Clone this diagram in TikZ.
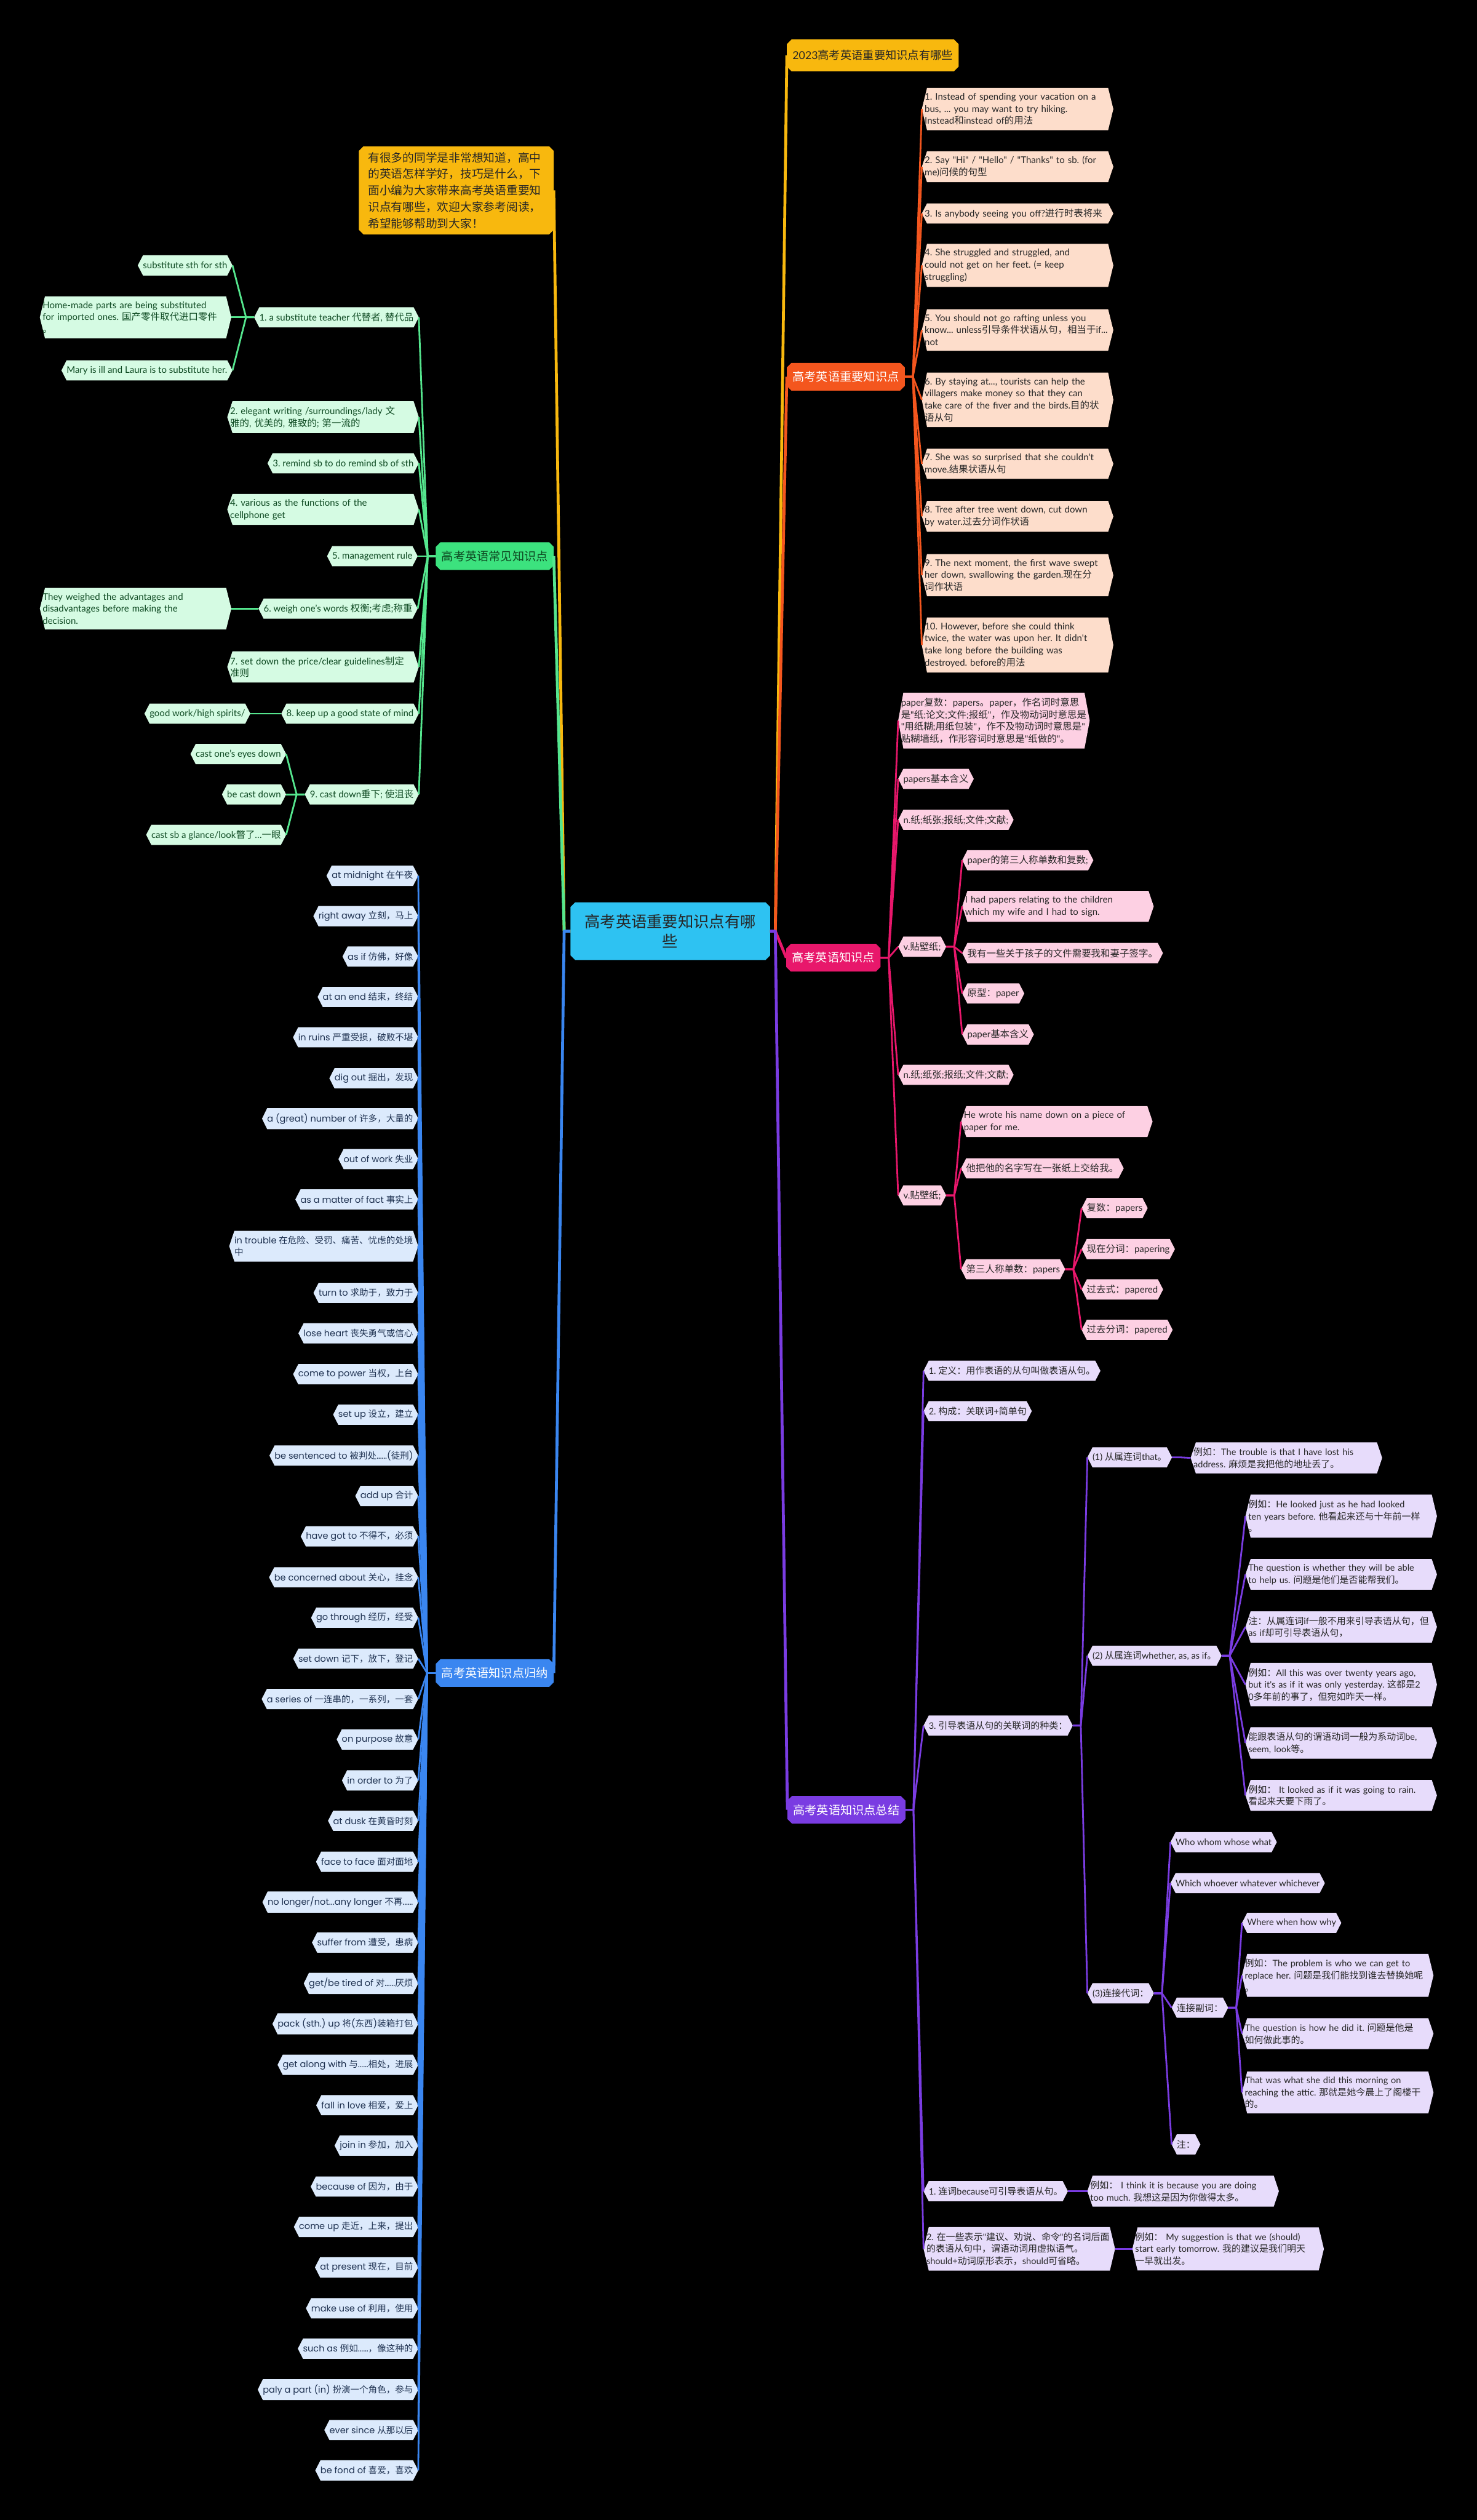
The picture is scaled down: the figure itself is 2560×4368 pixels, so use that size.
\documentclass[tikz,border=0pt]{standalone}
\usepackage{fontspec}
\setmainfont{Lato}[Ligatures=TeXOff,Scale=0.97]
\newfontfamily\bluefont{Poppins}[Ligatures=TeXOff]
\newfontfamily\cjkf{Noto Sans CJK SC}[Ligatures=TeXOff]
\frenchspacing
\hyphenpenalty=10000
\exhyphenpenalty=10000
\let\lcfont\rmfamily
\newcommand\latinf{\lcfont}
\newcount\cjkc
\cjkc="2E80 \loop \XeTeXcharclass\cjkc=7 \ifnum\cjkc<"9FFF \advance\cjkc by 1 \repeat
\cjkc="FF00 \loop \XeTeXcharclass\cjkc=7 \ifnum\cjkc<"FFEF \advance\cjkc by 1 \repeat
\XeTeXinterchartoks 0 7 = {\cjkf}
\XeTeXinterchartoks 4095 7 = {\cjkf}
\XeTeXinterchartoks 7 0 = {\latinf}
\XeTeXinterchartoks 4095 0 = {\latinf}
\makeatletter
\newdimen\hxL \newdimen\hxR \newdimen\hxT \newdimen\hxB \newdimen\hxM \newdimen\hxD
\newdimen\hxN \newdimen\hxP \newdimen\hxQ
\pgfkeys{/pgf/hex depth/.initial=9pt}
\pgfkeys{/pgf/oct cut/.initial=8pt}
\pgfdeclareshape{hexbox}{%
  \inheritsavedanchors[from=rectangle]%
  \inheritanchorborder[from=rectangle]%
  \inheritanchor[from=rectangle]{center}%
  \inheritanchor[from=rectangle]{north}%
  \inheritanchor[from=rectangle]{south}%
  \inheritanchor[from=rectangle]{east}%
  \inheritanchor[from=rectangle]{west}%
  \inheritanchor[from=rectangle]{north east}%
  \inheritanchor[from=rectangle]{north west}%
  \inheritanchor[from=rectangle]{south east}%
  \inheritanchor[from=rectangle]{south west}%
  \inheritanchor[from=rectangle]{mid}%
  \inheritanchor[from=rectangle]{base}%
  \backgroundpath{%
    \pgfmathsetlength\hxD{\pgfkeysvalueof{/pgf/hex depth}}%
    \southwest \hxL=\pgf@x \hxB=\pgf@y
    \northeast \hxR=\pgf@x \hxT=\pgf@y
    \hxM=.5\hxB \advance\hxM by .5\hxT
    \hxP=\hxL \advance\hxP by \hxD
    \hxQ=\hxR \advance\hxQ by -\hxD
    \pgfpathmoveto{\pgfqpoint{\hxL}{\hxM}}%
    \pgfpathlineto{\pgfqpoint{\hxP}{\hxT}}%
    \pgfpathlineto{\pgfqpoint{\hxQ}{\hxT}}%
    \pgfpathlineto{\pgfqpoint{\hxR}{\hxM}}%
    \pgfpathlineto{\pgfqpoint{\hxQ}{\hxB}}%
    \pgfpathlineto{\pgfqpoint{\hxP}{\hxB}}%
    \pgfpathclose
  }%
}
\pgfdeclareshape{octbox}{%
  \inheritsavedanchors[from=rectangle]%
  \inheritanchorborder[from=rectangle]%
  \inheritanchor[from=rectangle]{center}%
  \inheritanchor[from=rectangle]{north}%
  \inheritanchor[from=rectangle]{south}%
  \inheritanchor[from=rectangle]{east}%
  \inheritanchor[from=rectangle]{west}%
  \inheritanchor[from=rectangle]{north east}%
  \inheritanchor[from=rectangle]{north west}%
  \inheritanchor[from=rectangle]{south east}%
  \inheritanchor[from=rectangle]{south west}%
  \inheritanchor[from=rectangle]{mid}%
  \inheritanchor[from=rectangle]{base}%
  \backgroundpath{%
    \pgfmathsetlength\hxD{\pgfkeysvalueof{/pgf/oct cut}}%
    \southwest \hxL=\pgf@x \hxB=\pgf@y
    \northeast \hxR=\pgf@x \hxT=\pgf@y
    \hxM=\hxB \advance\hxM by \hxD
    \hxN=\hxT \advance\hxN by -\hxD
    \hxP=\hxL \advance\hxP by \hxD
    \hxQ=\hxR \advance\hxQ by -\hxD
    \pgfpathmoveto{\pgfqpoint{\hxL}{\hxM}}%
    \pgfpathlineto{\pgfqpoint{\hxL}{\hxN}}%
    \pgfpathlineto{\pgfqpoint{\hxP}{\hxT}}%
    \pgfpathlineto{\pgfqpoint{\hxQ}{\hxT}}%
    \pgfpathlineto{\pgfqpoint{\hxR}{\hxN}}%
    \pgfpathlineto{\pgfqpoint{\hxR}{\hxM}}%
    \pgfpathlineto{\pgfqpoint{\hxQ}{\hxB}}%
    \pgfpathlineto{\pgfqpoint{\hxP}{\hxB}}%
    \pgfpathclose
  }%
}
\makeatother
\definecolor{gold}{HTML}{F8B80E}
\definecolor{cyanC}{HTML}{2EC2F2}
\definecolor{orM}{HTML}{F4561E}
\definecolor{orL}{HTML}{FDDDCB}
\definecolor{pkM}{HTML}{E8176B}
\definecolor{pkL}{HTML}{FDD0E3}
\definecolor{puM}{HTML}{7A3CE2}
\definecolor{puL}{HTML}{E7DCFB}
\definecolor{blM}{HTML}{3A86F0}
\definecolor{blL}{HTML}{DCEAFC}
\definecolor{blT}{HTML}{1E3150}
\definecolor{grM}{HTML}{3CE27E}
\definecolor{grL}{HTML}{D5FBE3}
\definecolor{grLn}{HTML}{55E68E}
\definecolor{grT}{HTML}{0E4A22}
\definecolor{dk}{HTML}{262626}
\newcommand\conR[3]{\foreach \ch in {#3} {\draw[#1] (#2.east) -- ++(14,0) -- (\ch.west);}}
\newcommand\conL[3]{\foreach \ch in {#3} {\draw[#1] (#2.west) -- ++(-14,0) -- (\ch.east);}}
\begin{document}
\begin{tikzpicture}[x=1pt,y=-1pt,
  hx/.style={shape=hexbox, outer sep=0pt, inner xsep=9pt, inner ysep=9pt, minimum height=35pt, align=left, hex depth=9pt},
  oc/.style={shape=octbox, outer sep=0pt, oct cut=8pt},
  mainn/.style={oc, inner xsep=10pt, inner ysep=4pt, minimum height=48pt, font=\fontsize{20.5}{24}\selectfont},
  wide/.style={text width=322pt, inner xsep=5pt},
  orc/.style={hx, fill=orL, text=dk, font=\fontsize{16.5}{21}\selectfont},
  pkc/.style={hx, fill=pkL, text=dk, font=\fontsize{16.5}{21}\selectfont},
  puc/.style={hx, fill=puL, text=dk, font=\fontsize{16}{21}\selectfont},
  grc/.style={hx, fill=grL, text=grT, font=\fontsize{16.5}{21}\selectfont},
  blc/.style={hx, fill=blL, text=blT, font=\fontsize{15.5}{21}\selectfont\let\lcfont\bluefont, anchor=east},
  mline/.style={line width=5pt, line join=round},
  sline/.style={line width=3pt, line join=round}
]
\XeTeXinterchartokenstate=1
\useasboundingbox (0,0) rectangle (2560,4368);
\fill[black] (0,0) rectangle (2560,4368);

% ---------- center ----------
\node[oc, fill=cyanC, text=dk, inner xsep=23pt, minimum height=100pt, text width=300pt, align=center, font=\fontsize{27}{34}\selectfont] (cN) at (1162,1614) {高考英语重要知识点有哪\\些};

% ---------- right top title ----------
\node[oc, fill=gold, text=dk, inner xsep=10pt, minimum height=55pt, font=\fontsize{19.5}{24}\selectfont, anchor=west] (tN) at (1364,96) {2023高考英语重要知识点有哪些};

% ---------- orange branch ----------
\node[mainn, fill=orM, text=white, anchor=west] (oM) at (1364,653) {高考英语重要知识点};
\node[orc, wide, anchor=west] (o1) at (1598,189) {1. Instead of spending your vacation on a\\ bus, ... you may want to try hiking.\\Instead和instead of的用法};
\node[orc, wide, anchor=west] (o2) at (1598,289) {2. Say "Hi" / "Hello" / "Thanks" to sb. (for\\me)问候的句型};
\node[orc, wide, anchor=west] (o3) at (1598,370) {3. Is anybody seeing you off?进行时表将来};
\node[orc, wide, anchor=west] (o4) at (1598,460) {4. She struggled and struggled, and\\could not get on her feet. (= keep\\struggling)};
\node[orc, wide, anchor=west] (o5) at (1598,572) {5. You should not go rafting unless you\\know... unless引导条件状语从句，相当于if...\\not};
\node[orc, wide, anchor=west] (o6) at (1598,693) {6. By staying at..., tourists can help the\\villagers make money so that they can\\take care of the fiver and the birds.目的状\\语从句};
\node[orc, wide, anchor=west] (o7) at (1598,804) {7. She was so surprised that she couldn't\\move.结果状语从句};
\node[orc, wide, anchor=west] (o8) at (1598,895) {8. Tree after tree went down, cut down\\by water.过去分词作状语};
\node[orc, wide, anchor=west] (o9) at (1598,997) {9. The next moment, the first wave swept\\her down, swallowing the garden.现在分\\词作状语};
\node[orc, wide, anchor=west] (o10) at (1598,1118) {10. However, before she could think\\twice, the water was upon her. It didn't\\take long before the building was\\destroyed. before的用法};

% ---------- pink branch ----------
\node[mainn, fill=pkM, text=white, anchor=west] (pM) at (1363,1660) {高考英语知识点};
\node[pkc, wide, anchor=west] (p1) at (1557,1249) {paper复数：papers。paper，作名词时意思\\是"纸;论文;文件;报纸"，作及物动词时意思是\\"用纸糊;用纸包装"，作不及物动词时意思是"\\贴糊墙纸，作形容词时意思是"纸做的"。};
\node[pkc, anchor=west] (p2) at (1557,1350) {papers基本含义};
\node[pkc, anchor=west] (p3) at (1557,1421) {n.纸;纸张;报纸;文件;文献;};
\node[pkc, anchor=west] (p4) at (1557,1641) {v.贴壁纸;};
\node[pkc, anchor=west] (p41) at (1668,1491) {paper的第三人称单数和复数;};
\node[pkc, wide, anchor=west] (p42) at (1668,1571) {I had papers relating to the children\\which my wife and I had to sign.};
\node[pkc, anchor=west] (p43) at (1668,1652) {我有一些关于孩子的文件需要我和妻子签字。};
\node[pkc, anchor=west] (p44) at (1668,1722) {原型：paper};
\node[pkc, anchor=west] (p45) at (1668,1793) {paper基本含义};
\node[pkc, anchor=west] (p5) at (1557,1863) {n.纸;纸张;报纸;文件;文献;};
\node[pkc, anchor=west] (p6) at (1557,2072) {v.贴壁纸;};
\node[pkc, wide, anchor=west] (p61) at (1666,1944) {He wrote his name down on a piece of\\paper for me.};
\node[pkc, anchor=west] (p62) at (1666,2025) {他把他的名字写在一张纸上交给我。};
\node[pkc, anchor=west] (p63) at (1666,2200) {第三人称单数：papers};
\node[pkc, anchor=west] (p631) at (1875,2094) {复数：papers};
\node[pkc, anchor=west] (p632) at (1875,2165) {现在分词：papering};
\node[pkc, anchor=west] (p633) at (1875,2235) {过去式：papered};
\node[pkc, anchor=west] (p634) at (1875,2305) {过去分词：papered};

% ---------- purple branch ----------
\node[mainn, fill=puM, text=white, anchor=west] (uM) at (1365,3137) {高考英语知识点总结};
\node[puc, anchor=west] (u1) at (1601,2376) {1. 定义：用作表语的从句叫做表语从句。};
\node[puc, anchor=west] (u2) at (1601,2446) {2. 构成：关联词+简单句};
\node[puc, anchor=west] (u3) at (1601,2991) {3. 引导表语从句的关联词的种类：};
\node[puc, anchor=west] (u31) at (1885,2526) {(1) 从属连词that。};
\node[puc, wide, anchor=west] (u311) at (2064,2527) {例如：The trouble is that I have lost his\\address. 麻烦是我把他的地址丢了。};
\node[puc, anchor=west] (u32) at (1885,2870) {(2) 从属连词whether, as, as if。};
\node[puc, wide, anchor=west] (u321) at (2159,2628) {例如：He looked just as he had looked\\ten years before. 他看起来还与十年前一样\\。};
\node[puc, wide, anchor=west] (u322) at (2159,2729) {The question is whether they will be able\\to help us. 问题是他们是否能帮我们。};
\node[puc, wide, anchor=west] (u323) at (2159,2820) {注：从属连词if一般不用来引导表语从句，但\\as if却可引导表语从句，};
\node[puc, wide, anchor=west] (u324) at (2159,2920) {例如：All this was over twenty years ago,\\but it's as if it was only yesterday. 这都是2\\0多年前的事了，但宛如昨天一样。};
\node[puc, wide, anchor=west] (u325) at (2159,3021) {能跟表语从句的谓语动词一般为系动词be,\\seem, look等。};
\node[puc, wide, anchor=west] (u326) at (2159,3112) {例如： It looked as if it was going to rain.\\看起来天要下雨了。};
\node[puc, anchor=west] (u33) at (1885,3455) {(3)连接代词：};
\node[puc, anchor=west] (u331) at (2029,3193) {Who whom whose what};
\node[puc, anchor=west] (u332) at (2029,3264) {Which whoever whatever whichever};
\node[puc, anchor=west] (u333) at (2031,3480) {连接副词：};
\node[puc, anchor=west] (u3331) at (2153,3333) {Where when how why};
\node[puc, wide, anchor=west] (u3332) at (2153,3424) {例如：The problem is who we can get to\\replace her. 问题是我们能找到谁去替换她呢\\。};
\node[puc, wide, anchor=west] (u3333) at (2153,3525) {The question is how he did it. 问题是他是\\如何做此事的。};
\node[puc, wide, anchor=west] (u3334) at (2153,3627) {That was what she did this morning on\\reaching the attic. 那就是她今晨上了阁楼干\\的。};
\node[puc, anchor=west] (u334) at (2031,3717) {注：};
\node[puc, anchor=west] (u4) at (1601,3798) {1. 连词because可引导表语从句。};
\node[puc, wide, anchor=west] (u41) at (1885,3798) {例如： I think it is because you are doing\\too much. 我想这是因为你做得太多。};
\node[puc, wide, anchor=west] (u5) at (1601,3898) {2. 在一些表示"建议、劝说、命令"的名词后面\\的表语从句中，谓语动词用虚拟语气。\\should+动词原形表示，should可省略。};
\node[puc, wide, anchor=west] (u51) at (1963,3898) {例如： My suggestion is that we (should)\\start early tomorrow. 我的建议是我们明天\\一早就出发。};

% ---------- intro ----------
\node[oc, fill=gold, text=dk, inner xsep=16pt, inner ysep=10pt, text width=306pt, align=left, font=\fontsize{20}{28.5}\selectfont, anchor=east] (iN) at (960,330) {有很多的同学是非常想知道，高中\\的英语怎样学好，技巧是什么，下\\面小编为大家带来高考英语重要知\\识点有哪些，欢迎大家参考阅读，\\希望能够帮助到大家！};

% ---------- green branch ----------
\node[mainn, fill=grM, text=grT, anchor=east] (gM) at (960,964) {高考英语常见知识点};
\node[grc, anchor=east] (g1) at (726,550) {1. a substitute teacher 代替者, 替代品};
\node[grc, anchor=east] (g11) at (403,460) {substitute sth for sth};
\node[grc, wide, anchor=east] (g12) at (401,550) {Home-made parts are being substituted\\for imported ones. 国产零件取代进口零件\\。};
\node[grc, anchor=east] (g13) at (403,642) {Mary is ill and Laura is to substitute her.};
\node[grc, wide, anchor=east] (g2) at (726,723) {2. elegant writing /surroundings/lady 文\\雅的, 优美的, 雅致的; 第一流的};
\node[grc, anchor=east] (g3) at (726,803) {3. remind sb to do remind sb of sth};
\node[grc, wide, anchor=east] (g4) at (726,883) {4. various as the functions of the\\cellphone get};
\node[grc, anchor=east] (g5) at (724,964) {5. management rule};
\node[grc, anchor=east] (g6) at (724,1055) {6. weigh one’s words 权衡;考虑;称重};
\node[grc, wide, anchor=east] (g61) at (401,1055) {They weighed the advantages and\\disadvantages before making the\\decision.};
\node[grc, wide, anchor=east] (g7) at (726,1156) {7. set down the price/clear guidelines制定\\准则};
\node[grc, anchor=east] (g8) at (726,1237) {8. keep up a good state of mind};
\node[grc, anchor=east] (g81) at (434,1237) {good work/high spirits/};
\node[grc, anchor=east] (g9) at (726,1377) {9. cast down垂下; 使沮丧};
\node[grc, anchor=east] (g91) at (496,1307) {cast one’s eyes down};
\node[grc, anchor=east] (g92) at (496,1377) {be cast down};
\node[grc, anchor=east] (g93) at (496,1447) {cast sb a glance/look瞥了…一眼};

% ---------- blue branch ----------
\node[mainn, fill=blM, text=white, anchor=east] (bM) at (960,2900) {高考英语知识点归纳};
\node[blc] (b1) at (725,1518) {at midnight 在午夜};
\node[blc] (b2) at (725,1588) {right away 立刻，马上};
\node[blc] (b3) at (725,1658) {as if 仿佛，好像};
\node[blc] (b4) at (725,1728) {at an end 结束，终结};
\node[blc] (b5) at (725,1798) {in ruins 严重受损，破败不堪};
\node[blc] (b6) at (725,1869) {dig out 掘出，发现};
\node[blc] (b7) at (725,1939) {a (great) number of 许多，大量的};
\node[blc] (b8) at (725,2009) {out of work 失业};
\node[blc] (b9) at (725,2079) {as a matter of fact 事实上};
\node[blc] (b10) at (725,2160) {in trouble 在危险、受罚、痛苦、忧虑的处境\\中};
\node[blc] (b11) at (725,2241) {turn to 求助于，致力于};
\node[blc] (b12) at (725,2311) {lose heart 丧失勇气或信心};
\node[blc] (b13) at (725,2382) {come to power 当权，上台};
\node[blc] (b14) at (725,2452) {set up 设立，建立};
\node[blc] (b15) at (725,2523) {be sentenced to 被判处……(徒刑)};
\node[blc] (b16) at (725,2593) {add up 合计};
\node[blc] (b17) at (725,2663) {have got to 不得不，必须};
\node[blc] (b18) at (725,2734) {be concerned about 关心，挂念};
\node[blc] (b19) at (725,2804) {go through 经历，经受};
\node[blc] (b20) at (725,2875) {set down 记下，放下，登记};
\node[blc] (b21) at (725,2945) {a series of 一连串的，一系列，一套};
\node[blc] (b22) at (725,3015) {on purpose 故意};
\node[blc] (b23) at (725,3086) {in order to 为了};
\node[blc] (b24) at (725,3156) {at dusk 在黄昏时刻};
\node[blc] (b25) at (725,3227) {face to face 面对面地};
\node[blc] (b26) at (725,3297) {no longer/not...any longer 不再……};
\node[blc] (b27) at (725,3367) {suffer from 遭受，患病};
\node[blc] (b28) at (725,3438) {get/be tired of 对……厌烦};
\node[blc] (b29) at (725,3508) {pack (sth.) up 将(东西)装箱打包};
\node[blc] (b30) at (725,3579) {get along with 与……相处，进展};
\node[blc] (b31) at (725,3649) {fall in love 相爱，爱上};
\node[blc] (b32) at (725,3719) {join in 参加，加入};
\node[blc] (b33) at (725,3790) {because of 因为，由于};
\node[blc] (b34) at (725,3860) {come up 走近，上来，提出};
\node[blc] (b35) at (725,3930) {at present 现在，目前};
\node[blc] (b36) at (725,4001) {make use of 利用，使用};
\node[blc] (b37) at (725,4071) {such as 例如……，像这种的};
\node[blc] (b38) at (725,4142) {paly a part (in) 扮演一个角色，参与};
\node[blc] (b39) at (725,4212) {ever since 从那以后};
\node[blc] (b40) at (725,4282) {be fond of 喜爱，喜欢};

% ---------- connectors ----------
\draw[mline, gold] (cN.east) -- ++(9,0) -- (tN.west);
\draw[mline, orM] (cN.east) -- ++(9,0) -- (oM.west);
\draw[mline, pkM] (cN.east) -- ++(9,0) -- (pM.west);
\draw[mline, puM] (cN.east) -- ++(9,0) -- (uM.west);
\draw[mline, gold] (cN.west) -- ++(-11,0) -- (iN.east);
\draw[mline, grLn] (cN.west) -- ++(-11,0) -- (gM.east);
\draw[mline, blM] (cN.west) -- ++(-11,0) -- (bM.east);
\conR{sline, orM}{oM}{o1,o2,o3,o4,o5,o6,o7,o8,o9,o10}
\conR{sline, pkM}{pM}{p1,p2,p3,p4,p5,p6}
\conR{sline, pkM}{p4}{p41,p42,p43,p44,p45}
\conR{sline, pkM}{p6}{p61,p62,p63}
\conR{sline, pkM}{p63}{p631,p632,p633,p634}
\conR{sline, puM}{uM}{u1,u2,u3,u4,u5}
\conR{sline, puM}{u3}{u31,u32,u33}
\conR{sline, puM}{u31}{u311}
\conR{sline, puM}{u32}{u321,u322,u323,u324,u325,u326}
\conR{sline, puM}{u33}{u331,u332,u333,u334}
\conR{sline, puM}{u333}{u3331,u3332,u3333,u3334}
\conR{sline, puM}{u4}{u41}
\conR{sline, puM}{u5}{u51}
\conL{sline, grLn}{gM}{g1,g2,g3,g4,g5,g6,g7,g8,g9}
\conL{sline, grLn}{g1}{g11,g12,g13}
\conL{sline, grLn}{g6}{g61}
\conL{sline, grLn}{g8}{g81}
\conL{sline, grLn}{g9}{g91,g92,g93}
\foreach \i in {1,...,40} {\draw[sline, blM] (bM.west) -- ++(-15,0) -- (b\i.east);}
\end{tikzpicture}
\end{document}
